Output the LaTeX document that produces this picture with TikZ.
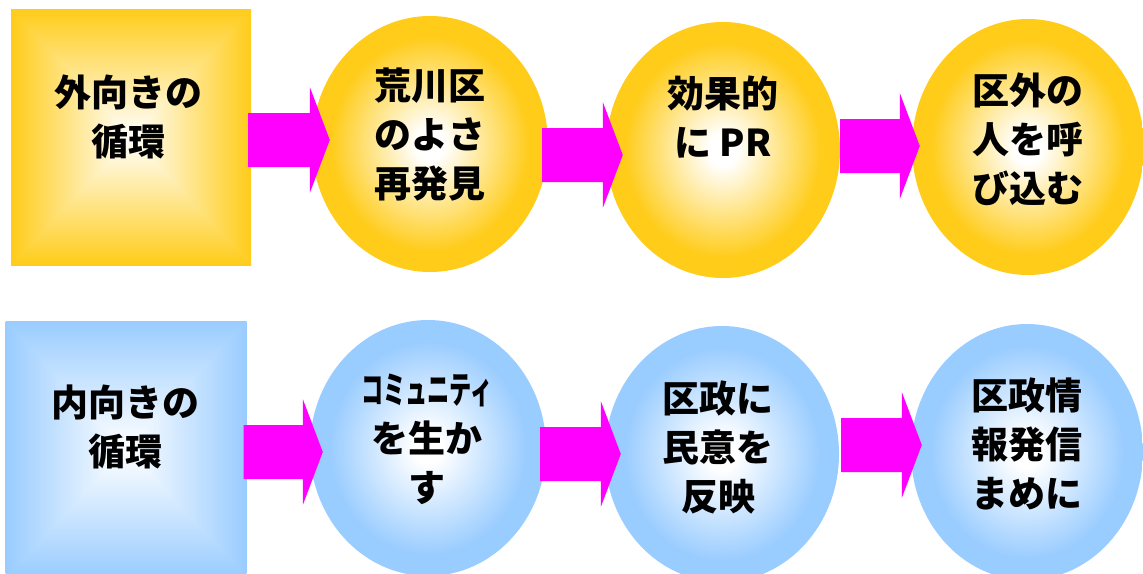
\documentclass[tikz,border=0pt]{standalone}
\usepackage{fontspec}
\usepackage{graphicx}
\newfontfamily\jpfont{Noto Sans CJK JP}[BoldFont={Noto Sans CJK JP Black}]
\usetikzlibrary{shapes.geometric,calc}

\definecolor{goldedge}{RGB}{255,204,26}
\definecolor{blueedge}{RGB}{153,204,255}
\definecolor{arrowpink}{RGB}{255,0,255}

% 円：中心が白
\pgfdeclareradialshading{goldshade}{\pgfpoint{0bp}{0bp}}{color(0bp)=(white); color(3bp)=(white); color(21bp)=(goldedge); color(25bp)=(goldedge); color(50bp)=(goldedge)}
\pgfdeclareradialshading{blueshade}{\pgfpoint{0bp}{0bp}}{color(0bp)=(white); color(3bp)=(white); color(21bp)=(blueedge); color(25bp)=(blueedge); color(50bp)=(blueedge)}
% 四角：四角形のグラデーション
\pgfdeclarefunctionalshading{goldrect}{\pgfpoint{-50bp}{-50bp}}{\pgfpoint{50bp}{50bp}}{}{abs exch abs 2 copy lt {exch} if pop 25 div dup 1 gt {pop 1} if dup 0.2 mul 1 exch sub exch 0.9 mul 1 exch sub 1 3 1 roll}
\pgfdeclarefunctionalshading{bluerect}{\pgfpoint{-50bp}{-50bp}}{\pgfpoint{50bp}{50bp}}{}{abs exch abs 2 copy lt {exch} if pop 25 div dup 1 gt {pop 1} if dup 0.4 mul 1 exch sub exch 0.2 mul 1 exch sub 1}

\tikzset{
  outerbox/.style={rectangle, shade, shading=goldrect, minimum width=240pt, minimum height=256pt, inner sep=0pt},
  innerbox/.style={rectangle, shade, shading=bluerect, minimum width=241pt, minimum height=256pt, inner sep=0pt},
  outerball/.style={ellipse, shade, shading=goldshade, minimum width=236pt, minimum height=256pt, inner sep=0pt},
  innerball/.style={ellipse, shade, shading=blueshade, minimum width=236pt, minimum height=256pt, inner sep=0pt},
  txt/.style={align=center, inner sep=0pt, font=\jpfont\bfseries\fontsize{37pt}{49pt}\selectfont}
}

% 太い矢印（始点，先端）
\newcommand\bigarrow[2]{%
  \path #1 coordinate (as) #2 coordinate (at);
  \fill[arrowpink] ($(as)+(0,-27)$) -- ($(at)+(-20,-27)$) -- ($(at)+(-20,-53)$) -- (at)
    -- ($(at)+(-20,53)$) -- ($(at)+(-20,27)$) -- ($(as)+(0,27)$) -- cycle;}

\begin{document}
\begin{tikzpicture}[x=1pt,y=-1pt]
        \useasboundingbox (0,0) rectangle (1143,573);

        % 外向きの循環
        \node[outerbox] (sq1) at (131,137) {};
        \node[outerball] (c1) at (430,144) {};
        \node[outerball, minimum width=234pt] (c2) at (723,150) {};
        \node[outerball, minimum width=232pt] (c3) at (1028,147) {};

        % 内向きの循環
        \node[innerbox] (sq2) at (126,449) {};
        \node[innerball] (c4) at (428,448) {};
        \node[innerball, minimum width=234pt] (c5) at (722,454) {};
        \node[innerball, minimum width=232pt] (c6) at (1027,452) {};

        % 矢印
        \bigarrow{($(sq1.east |- 0,140)+(-3,0)$)}{($(c1.west |- 0,140)+(18,0)$)}
        \bigarrow{($(c1.east |- 0,155)+(-6,0)$)}{($(c2.west |- 0,155)+(17,0)$)}
        \bigarrow{($(c2.east |- 0,146)+(0,0)$)}{($(c3.west |- 0,146)+(8,0)$)}
        \bigarrow{($(sq2.east |- 0,452)+(-3,0)$)}{($(c4.west |- 0,452)+(13,0)$)}
        \bigarrow{($(c4.east |- 0,454)+(-6,0)$)}{($(c5.west |- 0,454)+(16,0)$)}
        \bigarrow{($(c5.east |- 0,445)+(2,0)$)}{($(c6.west |- 0,445)+(11,0)$)}

        % 文字
        \node[txt] (t1) at (128,117) {外向きの\\循環};
        \node[txt] (t2) at (430,135) {荒川区\\のよさ\\再発見};
        \node[txt] (t3) at (723,117) {効果的\\に PR};
        \node[txt] (t4) at (1028,139) {区外の\\人を呼\\び込む};
        \node[txt] (t5) at (125,427) {内向きの\\循環};
        \node[txt] (t6) at (427,439) {\scalebox{0.6}[1]{コミュニティ}\\を生か\\す};
        \node[txt] (t7) at (718,447) {区政に\\民意を\\反映};
        \node[txt] (t8) at (1027,444) {区政情\\報発信\\まめに};
      \end{tikzpicture}
\end{document}
